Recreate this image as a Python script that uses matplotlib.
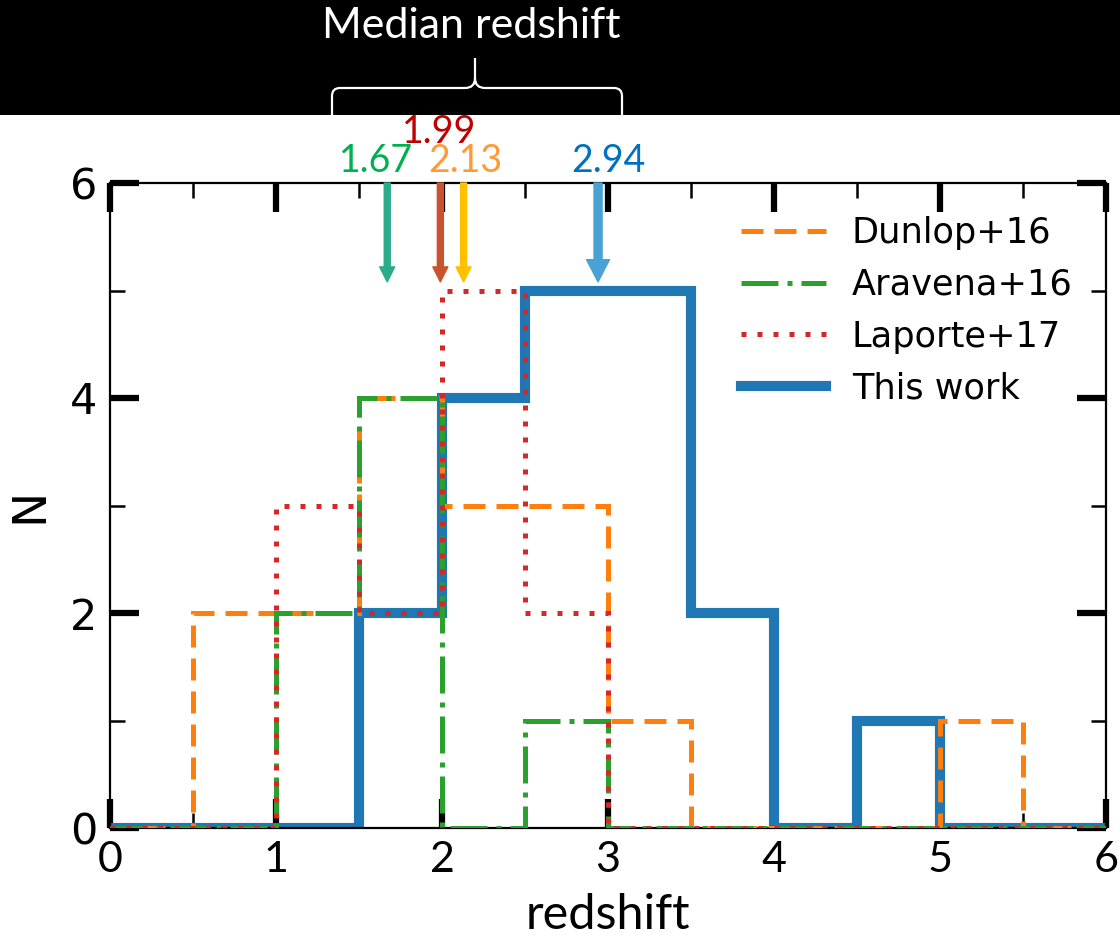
import numpy as np
import matplotlib
matplotlib.use('Agg')
from matplotlib import pyplot as plt
from matplotlib.path import Path
from matplotlib.patches import PathPatch, Rectangle

# redshift histograms, bins of 0.5 between z=0 and z=6
edges = np.arange(0, 6.01, 0.5)
dunlop = [0, 2, 2, 4, 3, 3, 1, 0, 0, 0, 1, 0]
aravena = [0, 0, 2, 4, 0, 1, 0, 0, 0, 0, 0, 0]
laporte = [0, 0, 3, 2, 5, 2, 0, 0, 0, 0, 0, 0]
this_work = [0, 0, 0, 2, 4, 5, 5, 2, 0, 1, 0, 0]

# median redshift of each sample
median_z = [1.67, 1.99, 2.13, 2.94]
median_txt = ['1.67', '1.99', '2.13', '2.94']
median_txt_col = ['#00b050', '#c00000', '#ff9a36', '#0070c0']
arrow_col = ['#2aab8b', '#c9532f', '#ffc000', '#49a2d4']

W, H = 1120, 939
fig = plt.figure(figsize=(W / 100, H / 100), dpi=100)
ax = fig.add_axes([110 / W, 111 / H, 996 / W, 645 / H])

ax.stairs(this_work, edges, color='#1f77b4', lw=7.3, zorder=2, label='This work')
ax.stairs(dunlop, edges, color='#ff7f0e', lw=3.6, ls=(0, (4.4, 2.2)), zorder=3, label='Dunlop+16')
ax.stairs(aravena, edges, color='#2ca02c', lw=3.6, ls=(0, (7.4, 1.8, 1, 1.8)), zorder=4, label='Aravena+16')
ax.stairs(laporte, edges, color='#d62728', lw=3.6, ls=(0, (1, 2.2)), zorder=5, label='Laporte+17')

h, l = ax.get_legend_handles_labels()
order = [l.index(s) for s in ['Dunlop+16', 'Aravena+16', 'Laporte+17', 'This work']]
ax.legend([h[i] for i in order], [l[i] for i in order], loc='upper right', frameon=False,
          fontsize=25.3, handlelength=2.42, handletextpad=0.72, labelspacing=0.5,
          borderaxespad=0.55)

ax.set_xlim(0, 6)
ax.set_ylim(0, 6)
ax.set_xticks(range(7))
ax.set_xticks(np.arange(0.5, 6, 1), minor=True)
ax.set_yticks([0, 2, 4, 6])
ax.set_yticks([1, 3, 5], minor=True)
ax.tick_params(which='both', direction='in', top=True, right=True)
ax.tick_params(which='major', length=21, width=4.5)
ax.tick_params(which='minor', length=10.5, width=1.8)
ax.tick_params(axis='y', labelsize=31, pad=9)
ax.tick_params(axis='x', labelsize=31, pad=9)
for t in ax.get_xticklabels():
    t.set_fontfamily('Lato')
for s in ax.spines.values():
    s.set_linewidth(1.6)

ax.set_xlabel('redshift', fontsize=35, family='Lato', va='top')
ax.xaxis.set_label_coords(0.5, -0.101)
ax.set_ylabel('N', fontsize=34)
ax.yaxis.set_label_coords(-0.058, 0.5)

# arrows marking the medians, bigger one for this work
for i, z in enumerate(median_z):
    big = i == 3
    ax.annotate('', xy=(z, 5.08), xytext=(z, 6.0),
                arrowprops=dict(color=arrow_col[i], shrink=0,
                                width=5.8 if big else 4.3,
                                headwidth=16.5 if big else 10.8,
                                headlength=16 if big else 10.8),
                annotation_clip=False, zorder=6)

# number labels above the frame
label_x = [1.60, 1.98, 2.14, 3.00]
label_y = [6.10, 6.37, 6.10, 6.10]
for x, y, s, c in zip(label_x, label_y, median_txt, median_txt_col):
    ax.text(x, y, s, color=c, fontsize=27, family='Lato', ha='center', va='baseline',
            clip_on=False)

# black title band with a brace over the labels
top = fig.add_axes([0, 0, 1, 1], zorder=10)
top.set_xlim(0, W)
top.set_ylim(H, 0)
top.axis('off')
top.add_patch(Rectangle((0, 0), W, 115, color='black', lw=0))
top.text(471, 38, 'Median redshift', color='white', fontsize=31, family='Lato',
         ha='center', va='baseline')

C3 = Path.CURVE3
left = Path([(332, 115), (332, 96), (332, 88), (340, 88), (465, 88), (475, 88), (475, 78), (475, 58)],
            [Path.MOVETO, Path.LINETO, C3, C3, Path.LINETO, C3, C3, Path.LINETO])
right = Path([(622, 115), (622, 96), (622, 88), (614, 88), (485, 88), (475, 88), (475, 78)],
             [Path.MOVETO, Path.LINETO, C3, C3, Path.LINETO, C3, C3])
for p in (left, right):
    top.add_patch(PathPatch(p, fc='none', ec='white', lw=1.6))

fig.savefig('out.png', dpi=100)
